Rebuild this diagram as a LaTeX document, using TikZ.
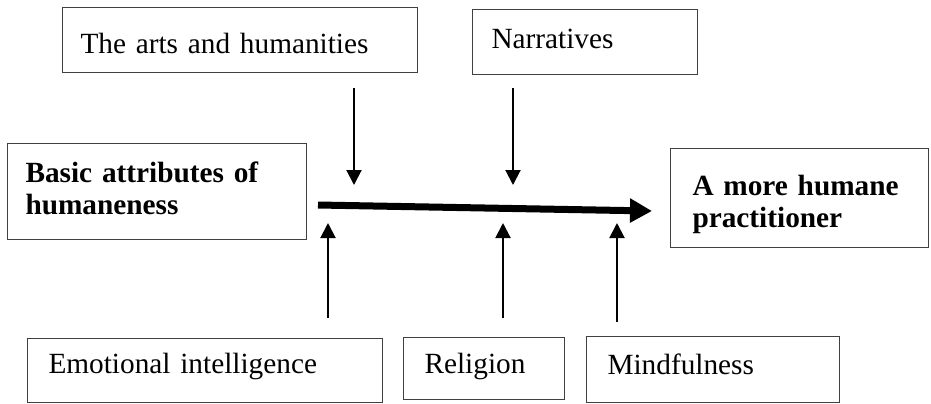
\documentclass[tikz,border=0pt]{standalone}
\usepackage{fontspec}
\setmainfont{Liberation Serif}
\usepackage{tikz}
\usetikzlibrary{arrows.meta, positioning}
\tikzset{
	boxnode/.style={
			draw=black!75,
			line width=0.5pt,
			anchor=north west,
			inner xsep=10pt,
			inner ysep=0pt,
			align=left,
			font=\fontsize{14.65}{16}\selectfont
		},
	boldboxnode/.style={
			boxnode,
			font=\fontsize{14.65}{16}\selectfont\bfseries
		},
	thinarrow/.style={
			line width=1pt,
			-{Triangle[length=7.5pt,width=7.5pt]}
		},
	thickarrow/.style={
			line width=3.5pt,
			-{Triangle[length=11pt,width=11.5pt]}
		}
}

\begin{document}
\begin{tikzpicture}[x=0.5pt, y=-0.5pt]
\useasboundingbox (0,0) rectangle (931,403);

\node[boxnode, inner xsep=9pt, text width=159.5pt, text height=23pt, text depth=9.5pt] (n1) at (62,7) {The arts and humanities};
\node[boxnode, inner xsep=9.5pt, text width=93.5pt, text height=19.5pt, text depth=13pt] (n2) at (472,9) {Narratives};
\node[boldboxnode, inner xsep=9pt, text width=131.5pt, text height=19.5pt, text depth=28.5pt] (n3) at (7,143) {Basic attributes of\\humaneness};
\node[boldboxnode, inner xsep=11pt, text width=107pt, text height=23.5pt, text depth=26pt] (n4) at (670,148) {A more humane\\practitioner};
\node[boxnode, inner xsep=10.5pt, text width=156.5pt, text height=17.5pt, text depth=14.5pt] (n5) at (27,338) {Emotional intelligence};
\node[boxnode, inner xsep=10.5pt, text width=59.5pt, text height=18pt, text depth=13pt] (n6) at (403,337) {Religion};
\node[boxnode, inner xsep=10.5pt, text width=105.5pt, text height=19pt, text depth=14pt] (n7) at (586,336) {Mindfulness};

\coordinate (c1) at (354,88);
\coordinate (c2) at (354,185);
\coordinate (c3) at (513,88);
\coordinate (c4) at (513,185);
\coordinate (c5) at (318,205);
\coordinate (c6) at (652,211);
\coordinate (c7) at (328,318);
\coordinate (c8) at (328,223);
\coordinate (c9) at (503,318);
\coordinate (c10) at (503,223);
\coordinate (c11) at (617,322);
\coordinate (c12) at (617,223);

\draw[thinarrow] (c1) -- (c2);
\draw[thinarrow] (c3) -- (c4);

\draw[thickarrow] (c5) -- (c6);

\draw[thinarrow] (c7) -- (c8);
\draw[thinarrow] (c9) -- (c10);
\draw[thinarrow] (c11) -- (c12);

\end{tikzpicture}
\end{document}
